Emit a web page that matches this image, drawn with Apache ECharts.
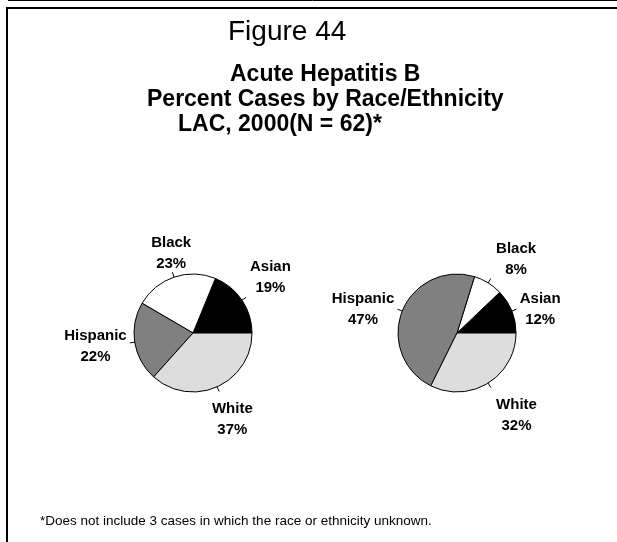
<!DOCTYPE html>
<html>
<head>
<meta charset="utf-8">
<script src="https://cdn.jsdelivr.net/npm/echarts@6/dist/echarts.min.js"></script>
<style>
  html, body { margin: 0; padding: 0; background: #fff; }
  #main { width: 617px; height: 542px; }
</style>
</head>
<body>
<div id="main"></div>
<script>
// data
const groups = ['Asian', 'Black', 'Hispanic', 'White'];
const pctLeft = [19, 23, 22, 37];
const pctRight = [12, 8, 47, 32];
const sliceColors = ['#000000', '#ffffff', '#808080', '#dddddd'];

const chart = echarts.init(document.getElementById('main'));

const font = 'Liberation Sans, Arial, sans-serif';
const pieCenters = [[193, 333], [457, 333]];
const pieRadius = 59;

const toData = vals => groups.map((g, i) => ({
  name: g,
  value: vals[i],
  itemStyle: {color: sliceColors[i]}
}));

// excel-ish "outside end" placement: box pushed out along the slice direction
const ramp = (v, t, k) => Math.sign(v) * Math.min(1, Math.max(0, (Math.abs(v) - t) * k));

const placeLabel = params => {
  const pts = params.labelLinePoints;
  if (!pts) return {};
  const c = pieCenters[params.seriesIndex];
  const p = pts[0];
  let dx = p[0] - c[0], dy = p[1] - c[1];
  const len = Math.sqrt(dx * dx + dy * dy) || 1;
  dx /= len; dy /= len;
  const w = params.labelRect.width, h = params.labelRect.height;
  const tick = [p[0] + dx * 5, p[1] + dy * 5];
  return {
    x: p[0] + ramp(dx, 0.3, 5) * (w / 2 + 8),
    y: p[1] + ramp(dy, 0.32, 4) * (h / 2 + 7) + 4,
    align: 'center',
    verticalAlign: 'middle',
    labelLinePoints: [[p[0] - dx * 2, p[1] - dy * 2], tick, tick]
  };
};

const pieSeries = (idx, vals) => ({
  type: 'pie',
  center: pieCenters[idx],
  radius: pieRadius,
  startAngle: 0,
  clockwise: false,
  silent: true,
  animation: false,
  itemStyle: {borderColor: '#000', borderWidth: 1},
  label: {
    show: true,
    position: 'outside',
    formatter: '{b}\n{c}%',
    fontFamily: font,
    fontWeight: 'bold',
    fontSize: 15,
    lineHeight: 21,
    color: '#000'
  },
  labelLine: {
    show: true,
    length: 5,
    length2: 0,
    lineStyle: {color: '#000', width: 1}
  },
  labelLayout: placeLabel,
  data: toData(vals)
});

const titleLine = (text, left, top, size, weight) => ({
  text: text,
  left: left,
  top: top,
  textStyle: {
    fontFamily: font,
    fontSize: size,
    fontWeight: weight,
    color: '#000'
  }
});

chart.setOption({
  backgroundColor: '#fff',
  title: [
    titleLine('Figure 44', 223, 13, 28, 'normal'),
    titleLine('Acute Hepatitis B', 225, 58, 23, 'bold'),
    titleLine('Percent Cases by Race/Ethnicity', 142, 83, 23, 'bold'),
    titleLine('LAC, 2000(N = 62)*', 173, 108, 23, 'bold'),
    {
      text: '*Does not include 3 cases in which the race or ethnicity unknown.',
      left: 35,
      top: 509,
      textStyle: {fontFamily: font, fontSize: 13.5, fontWeight: 'normal', color: '#000'}
    }
  ],
  graphic: [
    // frame
    {type: 'line', shape: {x1: 8, y1: 0.5, x2: 617, y2: 0.5}, style: {stroke: '#000', lineWidth: 1}},
    {type: 'line', shape: {x1: 6, y1: 8, x2: 617, y2: 8}, style: {stroke: '#000', lineWidth: 2}},
    {type: 'line', shape: {x1: 7, y1: 7, x2: 7, y2: 542}, style: {stroke: '#000', lineWidth: 2}}
  ],
  series: [
    pieSeries(0, pctLeft),
    pieSeries(1, pctRight)
  ]
});
</script>
</body>
</html>
